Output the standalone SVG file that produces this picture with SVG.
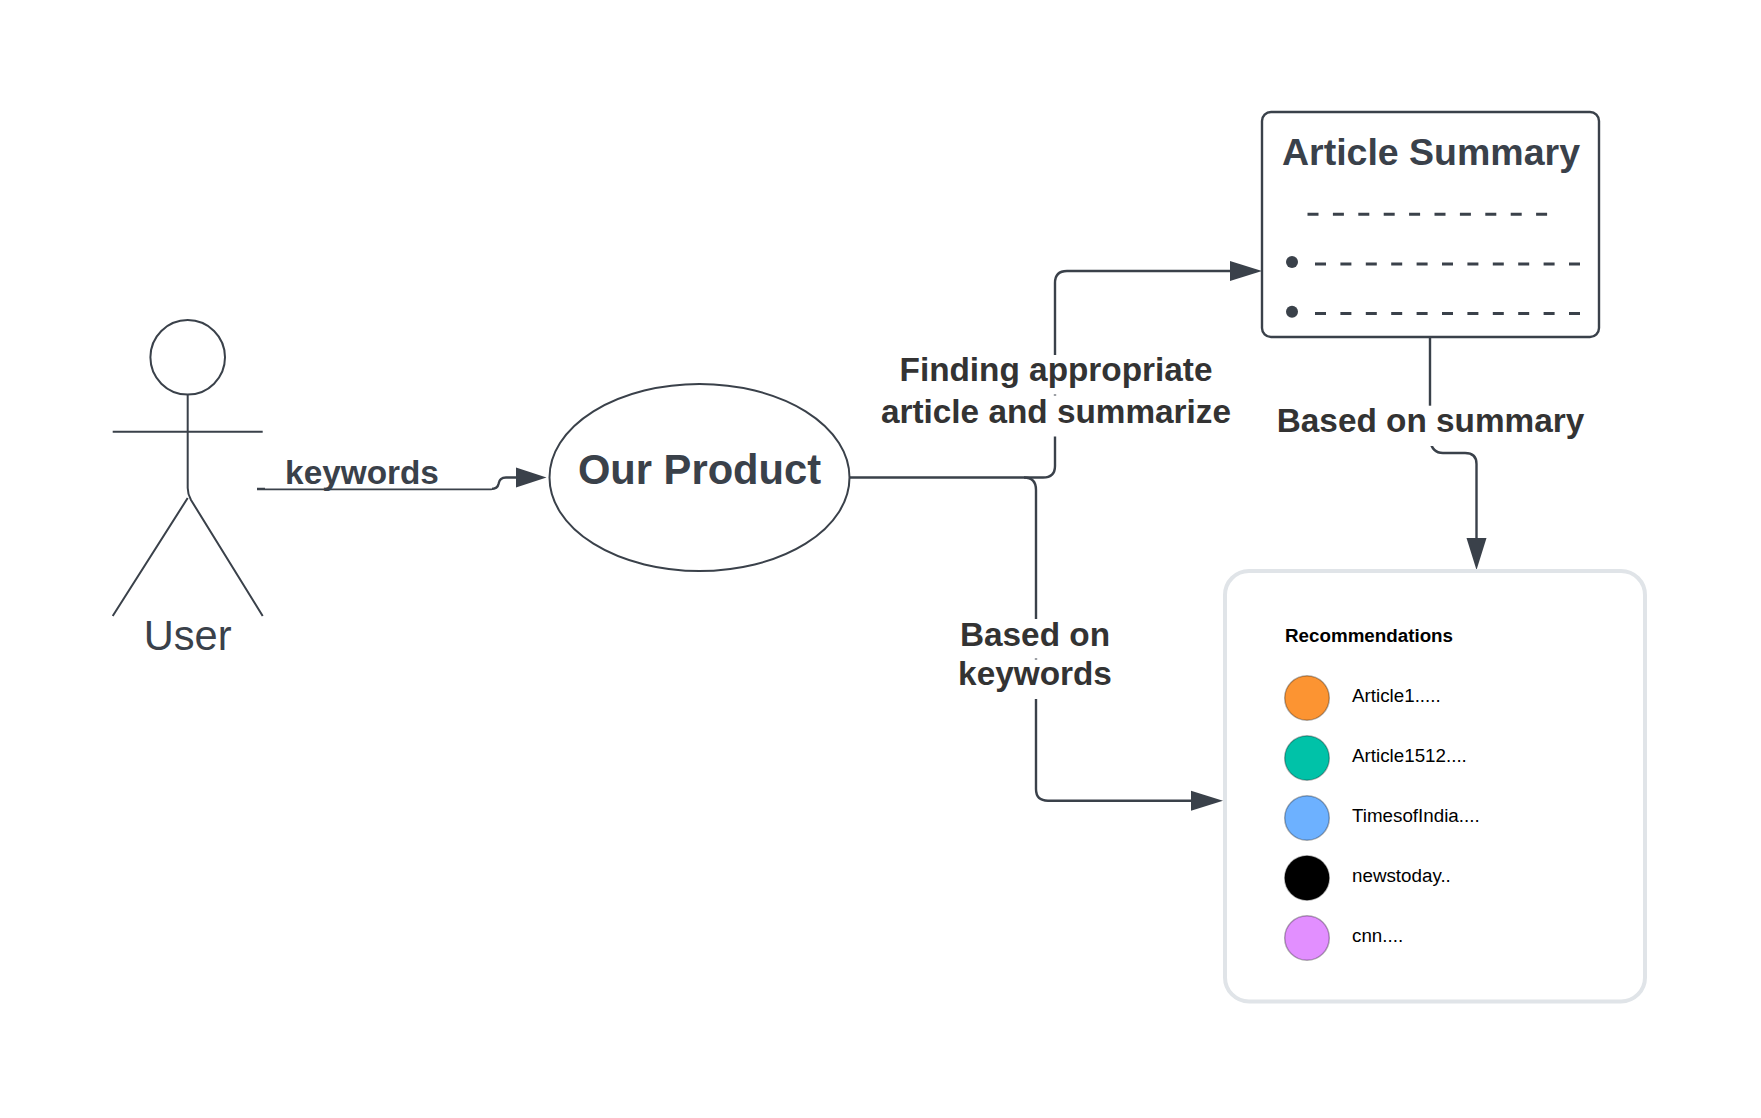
<svg xmlns="http://www.w3.org/2000/svg" width="1761" height="1118" viewBox="0 0 1761 1118">
<style>
text{font-family:"Liberation Sans",Arial,sans-serif}
.ln{fill:none;stroke:#3a414a;stroke-width:2}
.cn{fill:none;stroke:#3a414a;stroke-width:2.4}
.head{fill:#3a414a}
.lb{font-weight:700;font-size:33.33px;fill:#333;text-anchor:middle}
.bg{fill:#fff}
.dash{fill:none;stroke:#3a414a;stroke-width:3;stroke-dasharray:11 14.4}
.dot{fill:#3a414a}
.item{font-size:18.8px;fill:#000}
.sw{stroke:#000;stroke-opacity:.3;stroke-width:1.5}
</style>
<rect width="1761" height="1118" fill="#fff"/>
<g id="connectors">
<path class="cn" d="M257 489H491Q497.500 489 498.500 484Q499.500 477.500 506 477.500H518"/>
<path class="head" d="M546.500 477.500L516 467.500V487.500Z"/>
<path class="cn" d="M849 477.500H1043Q1055 477.500 1055 466V283Q1055 271 1067 271H1232"/>
<path class="head" d="M1262 271L1230 261V281Z"/>
<path class="cn" d="M1024 477.500Q1036 477.500 1036 490V789Q1036 800.700 1048 800.700H1193"/>
<path class="head" d="M1223 800.700L1191 790.700V810.700Z"/>
<path class="cn" d="M1430 337V440Q1432 453 1443 453H1465Q1476.500 453 1476.500 464V540"/>
<path class="head" d="M1476.500 570L1466.500 538H1486.500Z"/>
</g>
<g id="actor-user">
<circle class="ln" cx="187.700" cy="357.300" r="37.300"/>
<path class="ln" d="M112.700 431.700H262.700M187.700 394.600V488Q187.700 494 191 500L262.700 616M187.700 498L112.700 616"/>
<text x="187.700" y="649.500" font-size="41.600" fill="#3a414a" text-anchor="middle">User</text>
</g>
<g id="node-product">
<ellipse class="ln" cx="699.500" cy="477.500" rx="150" ry="93.500" fill="#fff"/>
<text x="699.500" y="484" font-size="41.700" font-weight="700" fill="#3a414a" text-anchor="middle">Our Product</text>
</g>
<g id="node-summary">
<rect x="1262" y="112" width="337" height="225" rx="9" fill="#fff" stroke="#3a414a" stroke-width="2.400"/>
<text x="1431" y="165.300" font-size="37.500" font-weight="700" fill="#3a414a" text-anchor="middle">Article Summary</text>
<path class="dash" d="M1307.500 214.300H1549"/>
<circle class="dot" cx="1292" cy="262" r="6"/>
<path class="dash" d="M1315 264H1582"/>
<circle class="dot" cx="1292" cy="311.700" r="6"/>
<path class="dash" d="M1315 313.500H1582"/>
</g>
<g id="node-recommendations">
<rect x="1225" y="571" width="420" height="430.400" rx="24" fill="#fff" stroke="#e0e4e8" stroke-width="4"/>
<text x="1285" y="641.700" font-size="18.800" font-weight="700" fill="#000">Recommendations</text>
<circle class="sw" cx="1307" cy="698" r="22.300" fill="#fc9432"/>
<text class="item" x="1352" y="702.300">Article1.....</text>
<circle class="sw" cx="1307" cy="758" r="22.300" fill="#00c2a8"/>
<text class="item" x="1352" y="762.300">Article1512....</text>
<circle class="sw" cx="1307" cy="818" r="22.300" fill="#6db1ff"/>
<text class="item" x="1352" y="822.300">TimesofIndia....</text>
<circle class="sw" cx="1307" cy="878" r="22.300" fill="#000"/>
<text class="item" x="1352" y="882.300">newstoday..</text>
<circle class="sw" cx="1307" cy="938" r="22.300" fill="#e28fff"/>
<text class="item" x="1352" y="942.300">cnn....</text>
</g>
<g id="label-keywords">
<rect class="bg" x="265" y="455" width="227" height="33.500"/>
<text x="362" y="484" font-weight="700" font-size="33.330" fill="#3a414a" text-anchor="middle">keywords</text>
</g>
<g id="label-finding">
<rect class="bg" x="880" y="355" width="350" height="39.500"/>
<rect class="bg" x="880" y="395.500" width="350" height="41"/>
<text class="lb" x="1056" y="380.700">Finding appropriate</text>
<text class="lb" x="1056" y="423">article and summarize</text>
</g>
<g id="label-based-keywords">
<rect class="bg" x="955" y="619" width="160" height="39.500"/>
<rect class="bg" x="955" y="659.500" width="160" height="39.500"/>
<text class="lb" x="1035" y="646">Based on</text>
<text class="lb" x="1035" y="685.200">keywords</text>
</g>
<g id="label-based-summary">
<rect class="bg" x="1270" y="405.700" width="320" height="40.300"/>
<text class="lb" x="1430.500" y="432">Based on summary</text>
</g>
</svg>
